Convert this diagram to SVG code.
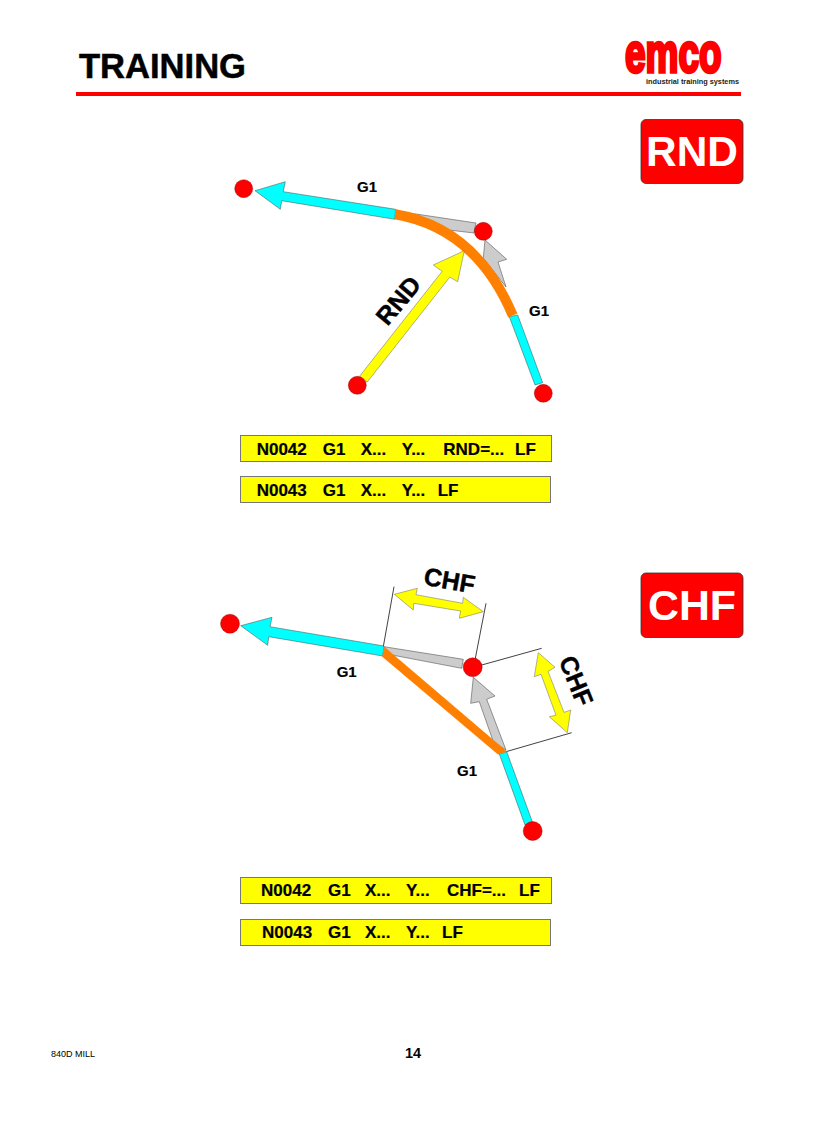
<svg xmlns="http://www.w3.org/2000/svg" width="816" height="1123" viewBox="0 0 816 1123">
<style>
text{font-family:"Liberation Sans",Arial,sans-serif;font-weight:700;fill:#000}
.pt{fill:#f00;stroke:#800;stroke-width:.4}
.cy{fill:#0ff;stroke:#444;stroke-width:.5}
.gr{fill:#ccc;stroke:#555;stroke-width:.6}
.ye{fill:#ff0;stroke:#666;stroke-width:.5}
.or{fill:#ff8000;stroke:none}
.thin{fill:none;stroke:#111;stroke-width:.8}
.box{fill:#ff0;stroke:#777;stroke-width:1}
.badge{fill:#f00;stroke:#333;stroke-width:.8}
.code{font-size:17px;stroke:#000;stroke-width:.2}
.g1{font-size:15px;stroke:#000;stroke-width:.2}
.dim{font-size:25px;stroke:#000;stroke-width:.4}
.bt{font-size:42px;fill:#fff}
</style>
<rect width="816" height="1123" fill="#fff"/>
<g id="header">
<text x="79" y="78" font-size="34.5" textLength="167" lengthAdjust="spacingAndGlyphs" style="stroke:#000;stroke-width:.5">TRAINING</text>
<rect x="76" y="92" width="665" height="4" fill="#f00"/>
<text transform="translate(625 71.500) scale(.66 1)" font-size="56" style="fill:#f00;stroke:#f00;stroke-width:3.500">emco</text>
<text x="646" y="84" font-size="8" textLength="93" lengthAdjust="spacingAndGlyphs" style="fill:#222">industrial training systems</text>
</g>
<g id="badge-rnd"><rect class="badge" x="641" y="119.500" width="102" height="64" rx="5"/><text class="bt" x="646" y="166" textLength="92" lengthAdjust="spacingAndGlyphs">RND</text></g>
<g id="badge-chf"><rect class="badge" x="641" y="573" width="102" height="64.500" rx="5"/><text class="bt" x="648" y="620" textLength="88" lengthAdjust="spacingAndGlyphs">CHF</text></g>

<g id="connectors-rnd">
<polygon class="gr" points="396,211 476,223 474,233 440,229"/>
<polygon class="gr" points="485,240 506.700,259.300 498,262 506,287 483.300,258"/>
<polygon class="cy" points="255,190.700 285.300,181.700 283.300,191.700 395.700,209.300 394.700,219.300 281.700,200.700 280.300,209.300"/>
<polygon class="cy" points="509.300,316.700 517.700,315 542.700,382.700 535,385"/>
<path d="M395.200 214.300Q476 228 512.800 315.500" fill="none" stroke="#ff8000" stroke-width="10"/>
<polygon class="ye" points="464.300,250.700 433.300,265 442.200,271.300 359.500,376.300 367.200,382.100 449.800,277.100 457.700,281.700"/>
</g>
<g id="p1"><circle class="pt" cx="243.700" cy="188.700" r="9"/></g>
<g id="p2"><circle class="pt" cx="483.300" cy="231.300" r="9"/></g>
<g id="p3"><circle class="pt" cx="357.300" cy="385.300" r="9"/></g>
<g id="p4"><circle class="pt" cx="543.300" cy="393.300" r="9"/></g>
<text class="g1" x="357" y="192">G1</text>
<text class="g1" x="529" y="315.500">G1</text>
<text class="dim" text-anchor="middle" transform="translate(405 306) rotate(-50)">RND</text>

<g id="box-r1"><rect class="box" x="240.500" y="435.500" width="311" height="26"/><text class="code" y="454.500"><tspan x="256.700">N0042</tspan><tspan x="322.700">G1</tspan><tspan x="360.700">X...</tspan><tspan x="401.700">Y...</tspan><tspan x="443.300">RND=...</tspan><tspan x="515">LF</tspan></text></g>
<g id="box-r2"><rect class="box" x="240.500" y="476.500" width="310" height="26"/><text class="code" y="495.500"><tspan x="256.700">N0043</tspan><tspan x="322.700">G1</tspan><tspan x="360.700">X...</tspan><tspan x="401.700">Y...</tspan><tspan x="437.700">LF</tspan></text></g>

<g id="connectors-chf">
<path class="thin" d="M394 586.700 383.300 646.700M486 603.300 475 660M481.700 665 541.700 648.300M506 751.700 571.700 732.700"/>
<polygon class="gr" points="384,646.700 463.300,659.300 461.700,668.300 392,655"/>
<polygon class="gr" points="473.300,677.300 495,696 486.700,699.300 506,750 493.300,741.700 479.300,701.700 470.700,703.300"/>
<polygon class="cy" points="240.700,625.700 272,617.300 270,626.700 384,646 382.700,656 268.700,636.700 267.700,645.300"/>
<polygon class="cy" points="499.300,754 506.700,751.700 532.300,821.700 525,825"/>
<polygon class="or" points="384.500,647 507,751.500 498,754.500 382,656.500"/>
<polygon class="ye" points="394.300,594.300 417.300,588.300 416,594.700 462.600,603.300 463.300,597.300 483.300,611.700 459.300,618.300 460.600,611 413.800,603.300 413.300,610"/>
<polygon class="ye" points="538.300,652.700 555,667.300 548,671.400 564,712.400 570.700,710 567.300,732.700 549.300,716.700 556,715.300 541,674.300 534.300,676.700"/>
</g>
<g id="q1"><circle class="pt" cx="230" cy="623.700" r="9.500"/></g>
<g id="q2"><circle class="pt" cx="472.700" cy="667.300" r="9.500"/></g>
<g id="q3"><circle class="pt" cx="532.700" cy="831" r="9.500"/></g>
<text class="g1" x="336.700" y="677">G1</text>
<text class="g1" x="457" y="776">G1</text>
<text class="dim" text-anchor="middle" transform="translate(448 589) rotate(10)">CHF</text>
<text class="dim" text-anchor="middle" transform="translate(568 684) rotate(68)">CHF</text>

<g id="box-c1"><rect class="box" x="240.500" y="877.500" width="311" height="26"/><text class="code" y="896"><tspan x="261">N0042</tspan><tspan x="328">G1</tspan><tspan x="365">X...</tspan><tspan x="406">Y...</tspan><tspan x="447">CHF=...</tspan><tspan x="519">LF</tspan></text></g>
<g id="box-c2"><rect class="box" x="240.500" y="919.500" width="310" height="26"/><text class="code" y="938"><tspan x="262">N0043</tspan><tspan x="328">G1</tspan><tspan x="365">X...</tspan><tspan x="406">Y...</tspan><tspan x="442">LF</tspan></text></g>

<g id="footer">
<text x="51" y="1057" font-size="9" style="font-weight:400">840D MILL</text>
<text x="405" y="1058" font-size="14.500">14</text>
</g>
</svg>
